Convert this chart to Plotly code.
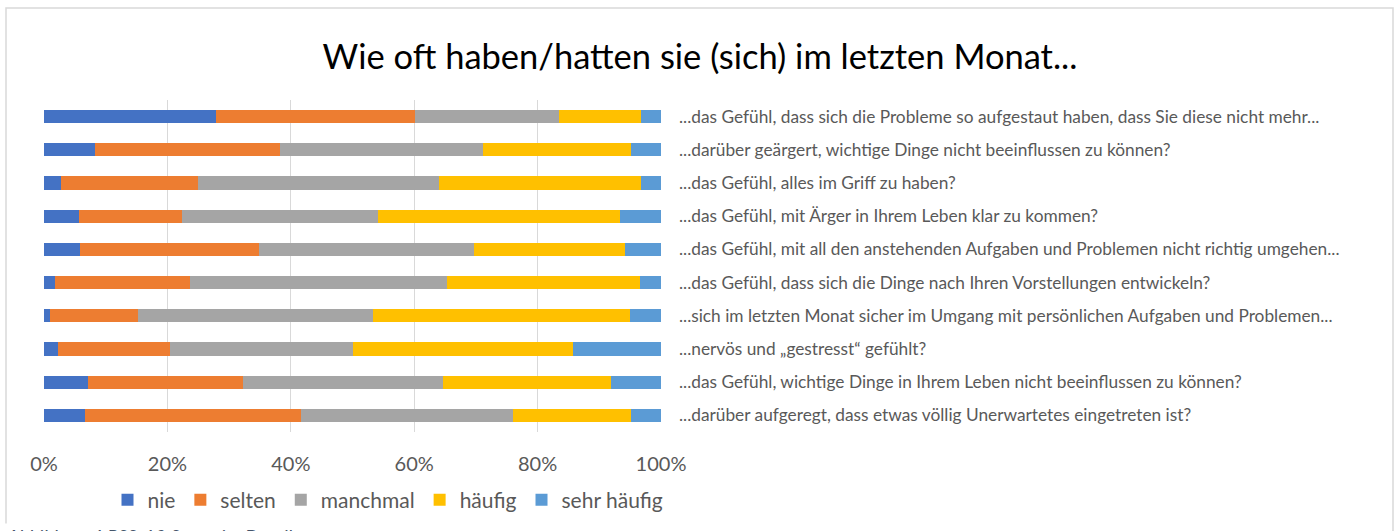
import plotly.graph_objects as go

questions = [
    "...das Gefühl, dass sich die Probleme so aufgestaut haben, dass Sie diese nicht mehr...",
    "...darüber geärgert, wichtige Dinge nicht beeinflussen zu können?",
    "...das Gefühl, alles im Griff zu haben?",
    "...das Gefühl, mit Ärger in Ihrem Leben klar zu kommen?",
    "...das Gefühl, mit all den anstehenden Aufgaben und Problemen nicht richtig umgehen...",
    "...das Gefühl, dass sich die Dinge nach Ihren Vorstellungen entwickeln?",
    "...sich im letzten Monat sicher im Umgang mit persönlichen Aufgaben und Problemen...",
    "...nervös und „gestresst“ gefühlt?",
    "...das Gefühl, wichtige Dinge in Ihrem Leben nicht beeinflussen zu können?",
    "...darüber aufgeregt, dass etwas völlig Unerwartetes eingetreten ist?",
]

nie = [27.8, 8.3, 2.8, 5.6, 5.9, 1.8, 1.0, 2.2, 7.2, 6.7]
selten = [32.4, 30.0, 22.1, 16.7, 29.0, 21.8, 14.3, 18.3, 25.1, 34.9]
manchmal = [23.2, 32.9, 39.1, 31.9, 34.8, 41.7, 38.1, 29.6, 32.3, 34.4]
haeufig = [13.3, 24.0, 32.7, 39.2, 24.4, 31.3, 41.5, 35.7, 27.3, 19.1]
sehr_haeufig = [3.3, 4.8, 3.3, 6.6, 5.9, 3.4, 5.1, 14.2, 8.1, 4.9]

series = [
    ("nie", nie, "#4472C4"),
    ("selten", selten, "#ED7D31"),
    ("manchmal", manchmal, "#A5A5A5"),
    ("häufig", haeufig, "#FFC000"),
    ("sehr häufig", sehr_haeufig, "#5B9BD5"),
]

totals = [sum(v) for v in zip(nie, selten, manchmal, haeufig, sehr_haeufig)]

fig = go.Figure()
for name, vals, color in series:
    fig.add_trace(go.Bar(
        y=questions,
        x=[v / t for v, t in zip(vals, totals)],
        name=name,
        orientation="h",
        marker=dict(color=color, line=dict(width=0)),
    ))

W, H = 1400, 531
L, R, T, B = 44, 661, 100, 432
pw, ph = R - L, B - T

def px_x(x):
    return (x - L) / pw

def px_y(y):
    return (B - y) / ph

font_family = "Lato, 'Open Sans', sans-serif"

fig.update_layout(
    width=W, height=H,
    barmode="stack",
    bargap=0.6,
    paper_bgcolor="white",
    plot_bgcolor="white",
    margin=dict(l=L, r=W - R, t=T, b=H - B, autoexpand=False),
    font=dict(family=font_family, color="#595959"),
    title=dict(
        text="Wie oft haben/hatten sie (sich) im letzten Monat...",
        x=0.5, xref="container", xanchor="center",
        y=1 - 57 / H, yref="container", yanchor="middle",
        font=dict(size=34.5, color="#000000", family=font_family),
    ),
    showlegend=True,
    legend=dict(
        orientation="h",
        x=px_x(388), xanchor="center",
        y=px_y(500), yanchor="middle",
        font=dict(size=21, color="#595959"),
        itemwidth=30,
        traceorder="normal",
        bgcolor="rgba(0,0,0,0)",
    ),
    xaxis=dict(
        range=[0, 1],
        tickvals=[0, 0.2, 0.4, 0.6, 0.8, 1.0],
        tickformat=".0%",
        showgrid=True, gridcolor="#D9D9D9", gridwidth=1,
        zeroline=False,
        showline=False,
        ticks="",
        ticklabelstandoff=18,
        tickfont=dict(size=20, color="#595959"),
        fixedrange=True,
    ),
    yaxis=dict(
        autorange="reversed",
        side="right",
        showgrid=False,
        showline=False,
        ticks="",
        ticklabelstandoff=17,
        tickfont=dict(size=17.3, color="#595959"),
        fixedrange=True,
    ),
    shapes=[
        dict(type="rect", xref="paper", yref="paper",
             x0=px_x(6), x1=px_x(1393), y0=px_y(560), y1=px_y(8),
             line=dict(color="#D9D9D9", width=1.5), fillcolor="rgba(0,0,0,0)",
             layer="below"),
    ],
    annotations=[
        dict(text="<i>Abbildung 4 PSS-10 Stress im Detail</i>",
             xref="paper", yref="paper",
             x=px_x(4), y=px_y(523), xanchor="left", yanchor="top",
             showarrow=False, bgcolor="white",
             font=dict(size=19, color="#44546A", family=font_family)),
    ],
)

fig.write_html("out.html")
